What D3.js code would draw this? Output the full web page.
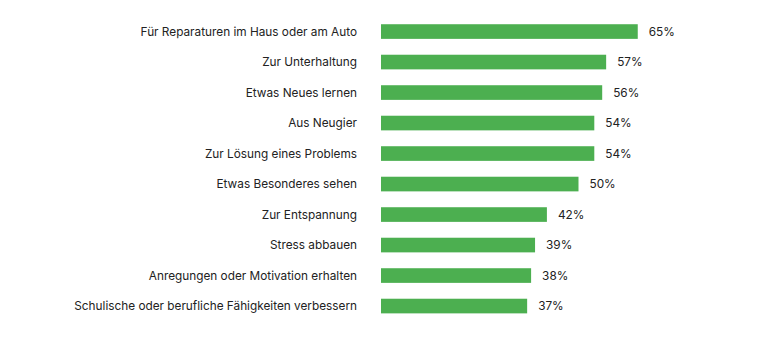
<!DOCTYPE html>
<meta charset="utf-8">
<style>
body { margin: 0; background: #fff; }
text { font-family: Inter, "Noto Sans", sans-serif; font-size: 11.8px; fill: #222; }
</style>
<body>
<script src="https://d3js.org/d3.v7.min.js"></script>
<script>
var categories = [
  "Für Reparaturen im Haus oder am Auto",
  "Zur Unterhaltung",
  "Etwas Neues lernen",
  "Aus Neugier",
  "Zur Lösung eines Problems",
  "Etwas Besonderes sehen",
  "Zur Entspannung",
  "Stress abbauen",
  "Anregungen oder Motivation erhalten",
  "Schulische oder berufliche Fähigkeiten verbessern"
];
var values = [65, 57, 56, 54, 54, 50, 42, 39, 38, 37];

var width = 780, height = 337;
var left = 381;

var svg = d3.select("body").append("svg")
    .attr("width", width)
    .attr("height", height);

var x = d3.scaleLinear().domain([0, 100]).range([left, left + 395]);
var y = d3.scaleBand().domain(categories).range([16.3, 321.3]).paddingInner(0.52).paddingOuter(0.26);

var rows = svg.selectAll("g.row")
    .data(categories)
  .enter().append("g")
    .attr("class", "row");

rows.append("rect")
    .attr("x", x(0))
    .attr("y", function(d) { return y(d); })
    .attr("width", function(d, i) { return x(values[i]) - x(0); })
    .attr("height", y.bandwidth())
    .attr("fill", "#4caf50");

// category labels, right-aligned against the bars
rows.append("text")
    .attr("x", 357)
    .attr("y", function(d) { return y(d) + y.bandwidth() / 2; })
    .attr("dy", "0.35em")
    .attr("text-anchor", "end")
    .text(function(d) { return d; });

rows.append("text")
    .attr("x", function(d, i) { return x(values[i]) + 11; })
    .attr("y", function(d) { return y(d) + y.bandwidth() / 2; })
    .attr("dy", "0.35em")
    .text(function(d, i) { return values[i] + "%"; });
</script>
</body>
